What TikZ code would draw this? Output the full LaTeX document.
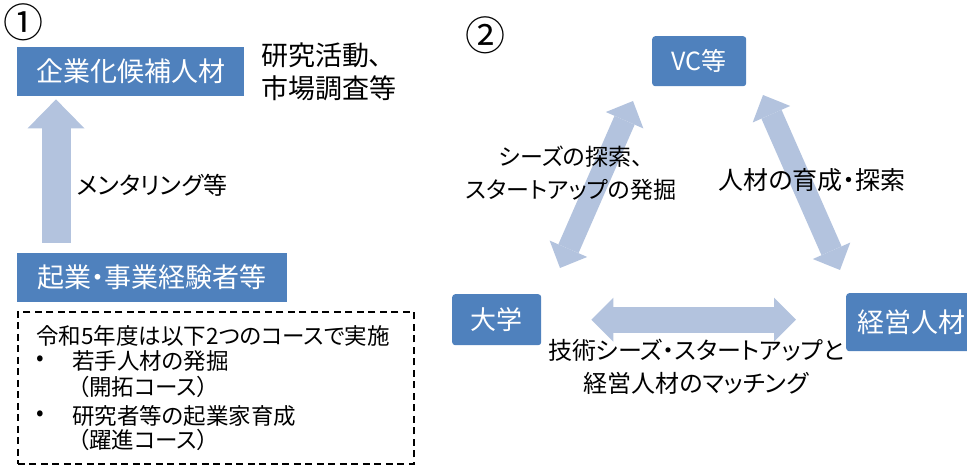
\documentclass[tikz,border=0pt]{standalone}
\usepackage{fontspec}
\setmainfont{Noto Sans CJK JP}[RawFeature=+palt]
\usetikzlibrary{arrows.meta,positioning,calc}
\definecolor{boxB}{RGB}{79,129,189}
\definecolor{arrB}{RGB}{179,195,222}
\tikzset{
  blk/.style={fill=boxB, text=white, inner sep=0pt, anchor=north west, font=\fontsize{27}{27}\selectfont},
  blkr/.style={blk, rounded corners=3pt},
  txt/.style={inner sep=0pt, font=\fontsize{23}{33}\selectfont},
  notetxt/.style={inner sep=0pt, anchor=west, font=\fontsize{22.5}{22.5}\selectfont},
  uparr/.style={draw=arrB, line width=29pt, -{Triangle[length=29pt, width=57pt, line width=0pt]}},
  dblarr/.style={draw=arrB, line width=22pt, {Triangle[length=21pt, width=41pt, line width=0pt]}-{Triangle[length=21pt, width=41pt, line width=0pt]}},
  hdblarr/.style={draw=arrB, line width=26pt, {Triangle[length=22pt, width=44pt, line width=0pt]}-{Triangle[length=22pt, width=44pt, line width=0pt]}}
}

\begin{document}
\begin{tikzpicture}[x=1pt, y=-1pt]
  \useasboundingbox (0,0) rectangle (967,465);
  % (1) mentoring
  \node[txt, font=\fontsize{40}{40}\selectfont] (no1) at (23,22) {①};
  \node[blk, minimum width=227pt, minimum height=49pt] (kouho) at (17,47) {企業化候補人材};
  \node[txt, anchor=west, align=left, font=\fontsize{27}{33}\selectfont] (kenkyu) at (261,72) {研究活動、\\市場調査等};
  \node[blk, minimum width=270pt, minimum height=49pt] (keiken) at (17,253) {起業・事業経験者等};
  \coordinate (upx) at (56,0);
  \draw[uparr, shorten <=10pt, shorten >=3pt] (upx |- keiken.north) -- (upx |- kouho.south);
  \node[txt, anchor=west, font=\fontsize{24}{24}\selectfont] (mentor) at (77,185) {メンタリング等};
  \node[draw, dash pattern=on 7pt off 4.5pt, line width=1.8pt, anchor=north west, minimum width=396pt, minimum height=152pt] (note) at (17,311) {};
  \node[notetxt] (note0) at (36,336) {令和5年度は以下2つのコースで実施};
  \node[notetxt, anchor=center] (bul1) at (40,361) {•};
  \node[notetxt] (note1) at (72,361) {若手人材の発掘};
  \node[notetxt] (note2) at (78,387) {（開拓コース）};
  \node[notetxt, anchor=center] (bul2) at (40,416) {•};
  \node[notetxt] (note3) at (72,416) {研究者等の起業家育成};
  \node[notetxt] (note4) at (78,440) {（躍進コース）};
  % (2) triangle
  \node[txt, font=\fontsize{40}{40}\selectfont] (no2) at (485,35) {②};
  \node[blkr, minimum width=94pt, minimum height=50pt, font=\fontsize{25}{25}\selectfont] (vc) at (652,36) {VC等};
  \node[blkr, minimum width=89pt, minimum height=51pt, font=\fontsize{26}{26}\selectfont] (daigaku) at (452,294) {大学};
  \node[blkr, minimum width=130pt, minimum height=58pt] (keiei) at (846,293) {経営人材};
  \coordinate (lb) at (560,268);
  \coordinate (lt) at (633,101);
  \coordinate (rt) at (763,95);
  \coordinate (rb) at (840,270);
  \draw[dblarr] (lb) -- (lt);
  \draw[dblarr] (rt) -- (rb);
  \draw[hdblarr, shorten <=50pt, shorten >=50pt] (daigaku.east) -- (daigaku.east -| keiei.west);
  \node[txt, align=center] (seeds) at (571,173) {シーズの探索、\\スタートアップの発掘};
  \node[txt, font=\fontsize{25}{25}\selectfont] (ikusei) at (812,180) {人材の育成・探索};
  \node[txt, align=center, font=\fontsize{24}{33}\selectfont] (match) at (696,367) {技術シーズ・スタートアップと\\経営人材のマッチング};
\end{tikzpicture}
\end{document}
